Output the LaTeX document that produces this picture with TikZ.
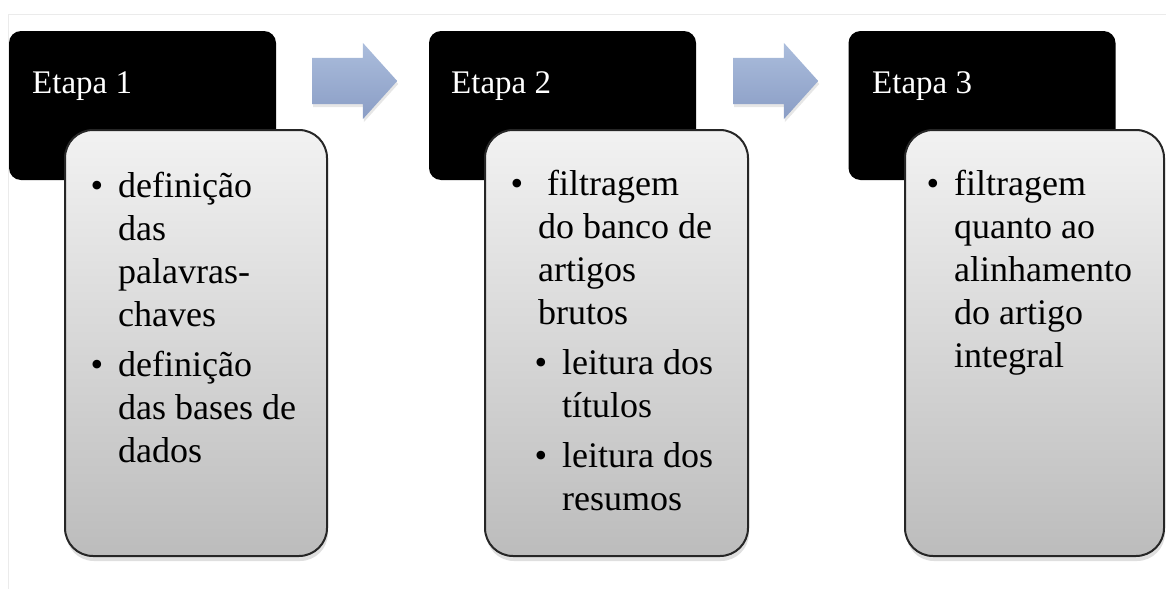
\documentclass[tikz,border=0pt]{standalone}
\usepackage{fontspec}
\setmainfont{Liberation Serif}
\usetikzlibrary{shapes.arrows,shadows}

\definecolor{cardtop}{HTML}{F2F2F2}
\definecolor{cardbot}{HTML}{BCBCBC}
\definecolor{arrowtop}{HTML}{ABBDDC}
\definecolor{arrowbot}{HTML}{8A9DC5}
\definecolor{framegray}{HTML}{EBEBEB}

\newcommand{\itembul}{\llap{\textbullet\hspace{15pt}}}

\begin{document}
\begin{tikzpicture}[x=1pt,y=-1pt]
            \tikzstyle{stagehead}=[rectangle, fill=black, rounded corners=12pt, minimum width=267pt, minimum height=149pt, inner sep=0pt]
            \tikzstyle{stagecard}=[rectangle, draw=black!85, line width=2pt, rounded corners=28pt, top color=cardtop, bottom color=cardbot, drop shadow={opacity=0.25, shadow xshift=1pt, shadow yshift=-5pt}, inner sep=0pt, minimum height=426pt]
            \tikzstyle{stagetitle}=[anchor=base west, inner sep=0pt, text=white, font=\fontsize{33}{40}\selectfont]
            \tikzstyle{stagelist}=[anchor=base west, inner sep=0pt, text=black, font=\fontsize{36}{43}\selectfont]
            \tikzstyle{stagearrow}=[single arrow, anchor=tail, single arrow head extend=15pt, single arrow tip angle=96, minimum height=85pt, minimum width=76pt, inner xsep=0pt, inner ysep=23pt, top color=arrowtop, bottom color=arrowbot, drop shadow={opacity=0.2, shadow xshift=1pt, shadow yshift=-3pt}]

            \useasboundingbox (0,0) rectangle (1166,589);
            \draw[framegray, line width=1pt] (8,14) -- (1166,14);
            \draw[framegray, line width=1pt] (8,14) -- (8,589);

            \node[stagehead] (h1) at (142.5,105.5) {};
            \node[stagehead] (h2) at (562.5,105.5) {};
            \node[stagehead] (h3) at (982,105.5) {};

            \node[stagearrow] (a12) at (312,81) {};
            \node[stagearrow] (a23) at (733,81) {};

            \node[stagecard, minimum width=262pt] (c1) at (196,343) {};
            \node[stagecard, minimum width=263pt] (c2) at (616.5,343) {};
            \node[stagecard, minimum width=259pt] (c3) at (1034.5,343) {};

            \node[stagetitle] (t1) at (32,93) {Etapa 1};
            \node[stagetitle] (t2) at (451,93) {Etapa 2};
            \node[stagetitle] (t3) at (872,93) {Etapa 3};

            \node[stagelist] (l1) at (118,197) {\begin{tabular}[t]{@{}l@{}}
              \itembul definição\\ das\\ palavras-\\ chaves\\[7pt]
              \itembul definição\\ das bases de\\ dados
            \end{tabular}};
            \node[stagelist] (l2) at (538,195) {\begin{tabular}[t]{@{}l@{}}
              \itembul\hspace{9pt}filtragem\\ do banco de\\ artigos\\ brutos\\[7pt]
              \hspace{24pt}\itembul leitura dos\\ \hspace{24pt}títulos\\[7pt]
              \hspace{24pt}\itembul leitura dos\\ \hspace{24pt}resumos
            \end{tabular}};
            \node[stagelist] (l3) at (954,195) {\begin{tabular}[t]{@{}l@{}}
              \itembul filtragem\\ quanto ao\\ alinhamento\\ do artigo\\ integral
            \end{tabular}};
          \end{tikzpicture}
\end{document}
